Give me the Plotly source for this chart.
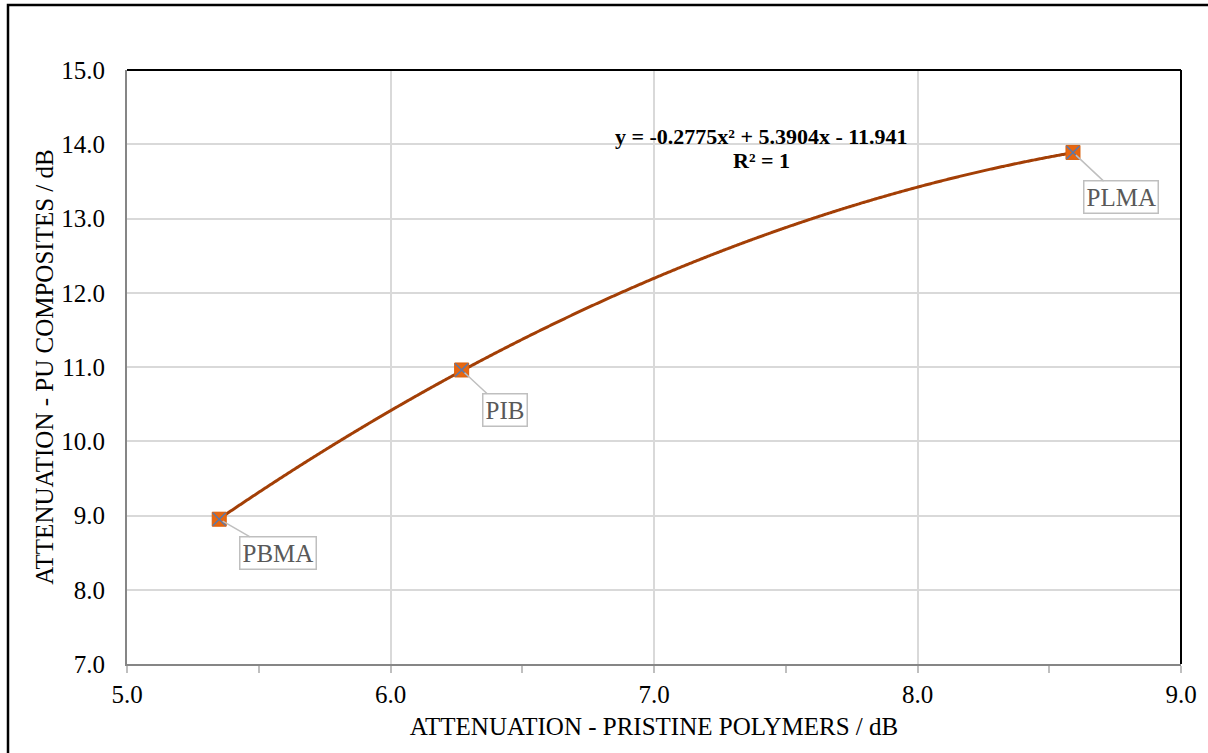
import numpy as np
import plotly.graph_objects as go

polymers = ["PBMA", "PIB", "PLMA"]
x_pristine = [5.35, 6.27, 8.59]
y_composite = [8.95, 10.96, 13.89]
trend_coef = [-0.2775, 5.3904, -11.941]  # from the chart's trendline equation
x_ticks = [5.0, 6.0, 7.0, 8.0, 9.0]
y_ticks = [7.0, 8.0, 9.0, 10.0, 11.0, 12.0, 13.0, 14.0, 15.0]

FONT = "Liberation Serif"

xt = np.linspace(min(x_pristine), max(x_pristine), 400)
yt = np.polyval(trend_coef, xt)

fig = go.Figure()
fig.add_trace(go.Scatter(x=xt, y=yt, mode="lines", line_shape="spline",
                         line=dict(color="#A33F06", width=3), hoverinfo="skip"))
fig.add_trace(go.Scatter(x=x_pristine, y=y_composite, mode="markers",
                         marker=dict(symbol="square", size=14, color="#E8660F",
                                     line=dict(color="#D9600C", width=1))))
fig.add_trace(go.Scatter(x=x_pristine, y=y_composite, mode="markers",
                         marker=dict(symbol="x-thin", size=13,
                                     line=dict(color="#5A78AA", width=1.5))))

offsets = {"PBMA": (59, 34), "PIB": (43, 40), "PLMA": (48, 45)}
for name, xv, yv in zip(polymers, x_pristine, y_composite):
    ax, ay = offsets[name]
    fig.add_annotation(x=xv, y=yv, text=name, showarrow=True, arrowhead=0,
                       arrowwidth=1.5, arrowcolor="#BFBFBF", ax=ax, ay=ay,
                       font=dict(family=FONT, size=25, color="#595959"),
                       bordercolor="#BFBFBF", borderwidth=1.5, borderpad=2,
                       bgcolor="white", standoff=4)

fig.add_annotation(xref="paper", yref="paper", x=(761 - 127) / 1054, y=(664 - 136) / 594,
                   xanchor="center", yanchor="middle",
                   text="<b>y = -0.2775x² + 5.3904x - 11.941</b>", showarrow=False,
                   font=dict(family=FONT, size=22, color="black"))
fig.add_annotation(xref="paper", yref="paper", x=(761 - 127) / 1054, y=(664 - 160) / 594,
                   xanchor="center", yanchor="middle",
                   text="<b>R² = 1</b>", showarrow=False,
                   font=dict(family=FONT, size=22, color="black"))

# plot area top/right border and outer frame
fig.add_shape(type="line", xref="paper", yref="paper", x0=0, x1=1, y0=1, y1=1,
              line=dict(color="black", width=2))
fig.add_shape(type="line", xref="paper", yref="paper", x0=1, x1=1, y0=0, y1=1,
              line=dict(color="black", width=2))
fig.add_shape(type="rect", xref="paper", yref="paper",
              x0=(8 - 127) / 1054, x1=(1212 - 127) / 1054,
              y0=(664 - 760) / 594, y1=(664 - 5) / 594,
              line=dict(color="black", width=2.5))

fig.update_layout(
    width=1208, height=753,
    margin=dict(l=127, r=27, t=70, b=89),
    paper_bgcolor="white", plot_bgcolor="white",
    showlegend=False,
    font=dict(family=FONT, size=25, color="black"),
)
fig.update_xaxes(range=[5, 9], tickvals=x_ticks, ticktext=[f"{v:.1f}" for v in x_ticks],
                 showgrid=True, gridcolor="#D9D9D9", gridwidth=1.5,
                 showline=True, linecolor="#868686", linewidth=2,
                 ticks="outside", ticklen=7, tickcolor="#BFBFBF", tickwidth=1.5,
                 minor=dict(dtick=0.5, ticks="outside", ticklen=7, tickcolor="#BFBFBF", showgrid=False),
                 zeroline=False, ticklabelstandoff=0,
                 title=dict(text="ATTENUATION - PRISTINE POLYMERS / dB", standoff=10,
                            font=dict(family=FONT, size=25)),
                 tickfont=dict(family=FONT, size=25))
fig.update_yaxes(range=[7, 15], tickvals=y_ticks, ticktext=[f"{v:.1f}" for v in y_ticks],
                 showgrid=True, gridcolor="#D9D9D9", gridwidth=1.5,
                 showline=True, linecolor="#868686", linewidth=2,
                 ticks="", zeroline=False, ticklabelstandoff=15,
                 title=dict(text="ATTENUATION - PU COMPOSITES / dB", standoff=1,
                            font=dict(family=FONT, size=25)),
                 tickfont=dict(family=FONT, size=25))

fig.write_html("out.html")
